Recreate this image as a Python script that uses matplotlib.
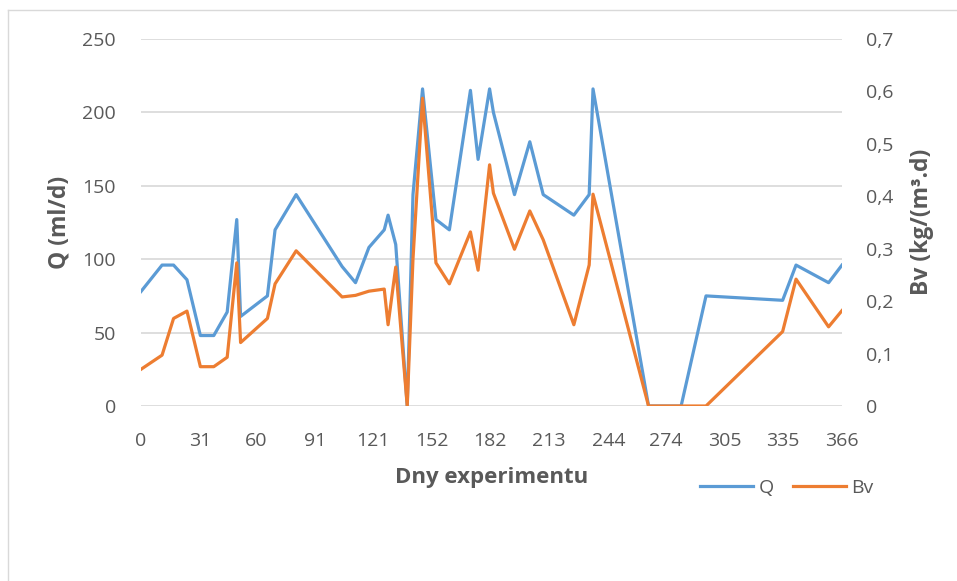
import matplotlib.pyplot as plt
from matplotlib.lines import Line2D

plt.rcParams['font.family'] = ['Open Sans', 'DejaVu Sans']

# experiment day, flow Q (ml/d) and volumetric load Bv (kg/(m3.d))
days = [0, 11, 17, 24, 31, 38, 45, 50, 52, 66, 70, 81, 105, 112, 119, 127, 129,
        133, 139, 142, 147, 154, 161, 172, 176, 182, 184, 195, 203, 210, 226,
        234, 236, 265, 282, 295, 335, 342, 359, 366]
q = [78, 96, 96, 86, 48, 48, 64, 127, 61, 75, 120, 144, 95, 84, 108, 120, 130,
     110, 0, 144, 216, 127, 120, 215, 168, 216, 200, 144, 180, 144, 130,
     144, 216, 0, 0, 75, 72, 96, 84, 96]
bv = [0.07, 0.097, 0.167, 0.181, 0.075, 0.075, 0.093, 0.273, 0.121, 0.167,
      0.233, 0.296, 0.208, 0.211, 0.219, 0.223, 0.155, 0.265, 0, 0.28, 0.587,
      0.273, 0.233, 0.332, 0.259, 0.46, 0.406, 0.299, 0.372, 0.317, 0.155,
      0.269, 0.404, 0, 0, 0, 0.142, 0.242, 0.151, 0.182]
xticks = [0, 31, 60, 91, 121, 152, 182, 213, 244, 274, 305, 335, 366]
qticks = [0, 50, 100, 150, 200, 250]
bvticks = [0, 0.1, 0.2, 0.3, 0.4, 0.5, 0.6, 0.7]

blue = '#5B9BD5'
orange = '#ED7D31'
grey = '#595959'

fig = plt.figure(figsize=(9.57, 5.81), dpi=100)
ax = fig.add_axes([141 / 957, 1 - 406 / 581, 701 / 957, 367 / 581])
ax2 = ax.twinx()

lq, = ax.plot(days, q, color=blue, lw=2.3, solid_joinstyle='round')
lb, = ax2.plot(days, bv, color=orange, lw=2.3, solid_joinstyle='round')

ax.set_xlim(0, 366)
ax.set_ylim(0, 250)
ax2.set_ylim(0, 0.7)
ax.set_xticks(xticks)
ax.set_yticks(qticks)
ax2.set_yticks(bvticks)
ax2.set_yticklabels(['0' if v == 0 else f'{v:.1f}'.replace('.', ',') for v in bvticks])

ax.grid(axis='y', color='#D4D4D4', lw=1.1)
ax.set_axisbelow(True)
for a in (ax, ax2):
    for s in a.spines.values():
        s.set_visible(False)
    a.tick_params(length=0, labelsize=14, labelcolor=grey)
ax.tick_params(axis='y', pad=18)
ax.tick_params(axis='x', pad=19)
ax2.tick_params(axis='y', pad=17)

fig.text(60 / 957, 1 - 222 / 581, 'Q (ml/d)', rotation=90, ha='center', va='center',
         fontsize=16.5, fontweight='bold', color=grey)
fig.text(922 / 957, 1 - 222 / 581, 'Bv (kg/(m³.d)', rotation=90, ha='center', va='center',
         fontsize=16.5, fontweight='bold', color=grey)
fig.text(492 / 957, 1 - 478 / 581, 'Dny experimentu', ha='center', va='center',
         fontsize=16, fontweight='bold', color=grey)

leg = fig.legend([lq, lb], ['Q', 'Bv'], loc='center', bbox_to_anchor=(787 / 957, 1 - 488 / 581),
                 ncol=2, frameon=False, fontsize=14, handlelength=2.7, handletextpad=0.3,
                 columnspacing=1.0, labelcolor=grey)

# chart area border
fig.add_artist(Line2D([8 / 957, 8 / 957], [0, 1 - 10 / 581], color='#D9D9D9', lw=1))
fig.add_artist(Line2D([8 / 957, 1], [1 - 10 / 581, 1 - 10 / 581], color='#D9D9D9', lw=1))

fig.savefig('out.png', dpi=100)
